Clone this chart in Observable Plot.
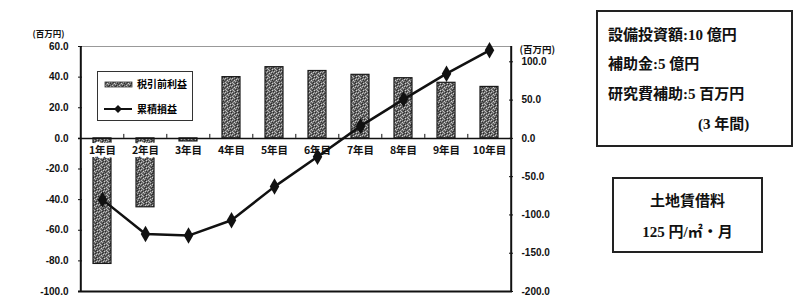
<!DOCTYPE html>
<html><head><meta charset="utf-8">
<script src="https://cdn.jsdelivr.net/npm/d3@7"></script>
<script src="https://cdn.jsdelivr.net/npm/@observablehq/plot@0.6"></script>
<style>
body{margin:0;background:#fff;}
#wrap{position:relative;width:800px;height:308px;overflow:hidden;}
.box{position:absolute;border:2px solid #222;box-sizing:border-box;font-family:"Liberation Serif","Noto Sans CJK JP",serif;font-weight:bold;font-size:15px;color:#111;}
.box div{position:absolute;white-space:nowrap;line-height:18px;}
#legend{position:absolute;left:97px;top:71px;width:96px;height:50px;border:1.5px solid #333;box-sizing:border-box;background:#fff;font-family:"Noto Sans CJK JP",sans-serif;font-weight:bold;font-size:10px;}
#legend div{position:absolute;left:39px;white-space:nowrap;line-height:12px;}
#legend svg{position:absolute;left:6px;}
</style></head>
<body><div id="wrap"></div>
<script>
const years = ["1年目","2年目","3年目","4年目","5年目","6年目","7年目","8年目","9年目","10年目"];
const pretaxProfit = [-82, -45, -2, 40, 46.5, 44, 41.5, 39.3, 36.3, 33.6];
const cumulative = [-80, -125, -127, -107, -63, -24, 16, 51, 84.5, 115];
const leftTicks = [60, 40, 20, 0, -20, -40, -60, -80, -100];
const rightTicks = [100, 50, 0, -50, -100, -150, -200];
const unitLabel = "(百万円)";
const legendBar = "税引前利益";
const legendLine = "累積損益";
const box1Lines = ["設備投資額:10 億円","補助金:5 億円","研究費補助:5 百万円","(3 年間)"];
const box2Lines = ["土地賃借料","125 円/㎡・月"];

const data = years.map((y,i)=>({year:y, profit:pretaxProfit[i], cum:cumulative[i]}));
const W = 800, H = 308, mL = 78, mR = 288, mT = 46, mB = 17;
const halfStep = (W - mL - mR) / years.length / 2;
const font = "Liberation Sans, Arial, sans-serif";

const chart = Plot.plot({
  width: W, height: H,
  marginLeft: mL, marginRight: mR, marginTop: mT, marginBottom: mB,
  style: {fontFamily: font, fontSize: "10px", fontWeight: "bold", background: "white", color: "#111"},
  x: {domain: years, paddingInner: 0.585, paddingOuter: 0.29, axis: null},
  y: {domain: [-100, 60], axis: null},
  marks: [
    Plot.ruleY([60], {stroke: "#999", strokeWidth: 1}),
    Plot.barY(data, {x: "year", y: "profit", fill: "url(#stipple)", stroke: "#1a1a1a", strokeWidth: 1.2}),
    Plot.ruleY([0], {stroke: "#111", strokeWidth: 1.5}),
    Plot.ruleX(years.slice(1), {x: d => d, y1: 0, y2: 2.6, dx: -halfStep, stroke: "#111", strokeWidth: 1}),
    Plot.axisY({anchor: "left", label: null, ticks: leftTicks, tickFormat: d => d.toFixed(1), tickSize: -4, tickPadding: 14, fontSize: 10, fontWeight: "bold"}),
    Plot.axisY({anchor: "right", label: null, ticks: rightTicks.map(v => v / 2), tickFormat: d => (d * 2).toFixed(1), tickSize: -4, tickPadding: 13, fontSize: 10, fontWeight: "bold"}),
    Plot.ruleX([years[0]], {dx: -halfStep, y1: -100, y2: 60, stroke: "#111", strokeWidth: 2}),
    Plot.ruleX([years[years.length-1]], {dx: halfStep, y1: -100, y2: 60, stroke: "#111", strokeWidth: 2}),
    Plot.ruleY([-100], {stroke: "#111", strokeWidth: 2}),
    Plot.text(years, {x: d => d, y: 0, dy: 12, text: d => d, fontSize: 10.5, fontWeight: "bold", fontFamily: "Noto Sans CJK JP, sans-serif", stroke: "white", strokeWidth: 6, fill: "#111"}),
    Plot.line(data, {x: "year", y: d => d.cum / 2, stroke: "#111", strokeWidth: 2.5}),
    Plot.dot(data, {x: "year", y: d => d.cum / 2, symbol: "diamond", r: 5, fill: "#111", stroke: "none"}),
    Plot.text([unitLabel], {frameAnchor: "top-left", text: d => d, dx: -14, dy: -16, textAnchor: "end", fontSize: 8.5, fontFamily: "Noto Sans CJK JP, sans-serif", fontWeight: "bold"}),
    Plot.text([unitLabel], {frameAnchor: "top-right", text: d => d, dx: 7, dy: 0, textAnchor: "start", fontSize: 9.5, fontFamily: "Noto Sans CJK JP, sans-serif", fontWeight: "bold"})
  ]
});

// stipple pattern for bars
const svg = d3.select(chart);
const defs = svg.insert("defs", ":first-child");
const pat = defs.append("pattern").attr("id", "stipple").attr("patternUnits", "userSpaceOnUse").attr("width", 7).attr("height", 7);
pat.append("rect").attr("width", 7).attr("height", 7).attr("fill", "#6a6a6a");
const dots = [
  [0,0,"#262626"],[3,0,"#b8b8b8"],[5,0,"#404040"],
  [1,1,"#c4c4c4"],[4,1,"#2c2c2c"],[6,1,"#999"],
  [2,2,"#333"],[5,2,"#cacaca"],[0,2,"#a0a0a0"],
  [3,3,"#d2d2d2"],[6,3,"#303030"],[1,3,"#4a4a4a"],
  [0,4,"#3a3a3a"],[4,4,"#b0b0b0"],[2,4,"#888"],
  [1,5,"#c0c0c0"],[5,5,"#282828"],[3,5,"#505050"],
  [2,6,"#bcbcbc"],[6,6,"#d4d4d4"],[4,6,"#363636"]
];
dots.forEach(([x,y,c]) => pat.append("rect").attr("x", x).attr("y", y).attr("width", 1).attr("height", 1).attr("fill", c));

const wrap = document.getElementById("wrap");
chart.style.position = "absolute"; chart.style.left = "0"; chart.style.top = "0";
wrap.appendChild(chart);

// legend
const lg = document.createElement("div");
lg.id = "legend";
lg.innerHTML = `<svg width="30" height="8" style="top:8px"><rect x="1" y="2" width="27" height="5" fill="url(#stipple)" stroke="#333" stroke-width="0.8"/></svg>
<div style="top:6px">${legendBar}</div>
<svg width="30" height="10" style="top:32px"><line x1="0" y1="5" x2="28" y2="5" stroke="#111" stroke-width="2"/><path d="M14 1 L18 5 L14 9 L10 5 Z" fill="#111"/></svg>
<div style="top:31px">${legendLine}</div>`;
wrap.appendChild(lg);

// text boxes
const b1 = document.createElement("div");
b1.className = "box";
Object.assign(b1.style, {left: "596px", top: "10px", width: "197px", height: "137px"});
const tops1 = [14, 43, 73, 103];
box1Lines.forEach((t,i) => {
  const d = document.createElement("div");
  d.textContent = t;
  d.style.top = tops1[i] + "px";
  d.style.left = (i === 3 ? 100 : 10) + "px";
  b1.appendChild(d);
});
wrap.appendChild(b1);

const b2 = document.createElement("div");
b2.className = "box";
Object.assign(b2.style, {left: "612px", top: "177px", width: "151px", height: "76px"});
const tops2 = [13, 44];
box2Lines.forEach((t,i) => {
  const d = document.createElement("div");
  d.textContent = t;
  d.style.top = tops2[i] + "px";
  d.style.left = "0"; d.style.width = "100%"; d.style.textAlign = "center";
  b2.appendChild(d);
});
wrap.appendChild(b2);
</script></body></html>
